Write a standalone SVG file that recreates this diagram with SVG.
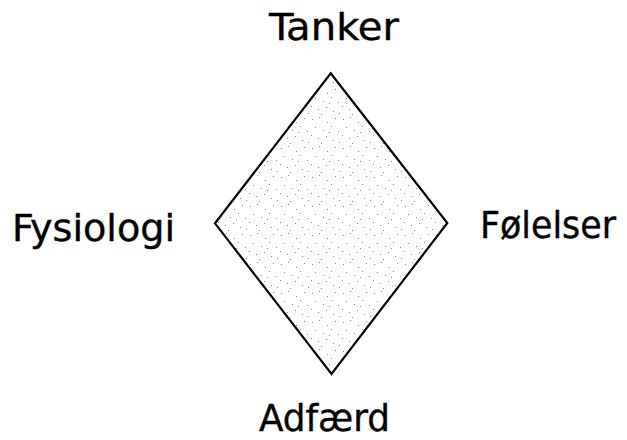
<svg xmlns="http://www.w3.org/2000/svg" width="627" height="440" viewBox="0 0 627 440">
<defs>
<style>
.lbl{font-family:"DejaVu Sans Condensed","DejaVu Sans","Liberation Sans",sans-serif;font-size:38px;fill:#000;stroke:#000;stroke-width:0.35}
.shape{stroke:#000;stroke-width:2.2;stroke-linejoin:miter}
</style>
<pattern id="stip" x="0" y="0" width="31" height="29" patternUnits="userSpaceOnUse">
<rect width="31" height="29" fill="#fff"/>
<g fill="#8a8a8a">
<rect x="2" y="3" width="1" height="1"/>
<rect x="9" y="1" width="1" height="1"/>
<rect x="17" y="6" width="1" height="1"/>
<rect x="25" y="2" width="1" height="1"/>
<rect x="5" y="11" width="1" height="1"/>
<rect x="13" y="14" width="1" height="1"/>
<rect x="21" y="10" width="1" height="1"/>
<rect x="28" y="15" width="1" height="1"/>
<rect x="1" y="19" width="1" height="1"/>
<rect x="8" y="22" width="1" height="1"/>
<rect x="16" y="20" width="1" height="1"/>
<rect x="23" y="24" width="1" height="1"/>
<rect x="11" y="27" width="1" height="1"/>
<rect x="29" y="26" width="1" height="1"/>
<rect x="19" y="16" width="1" height="1"/>
</g>
</pattern>
</defs>
<g id="diamond">
<polygon class="shape" points="330.7,73.3 447.3,223 331.5,374 215,223.3" fill="url(#stip)"/>
</g>
<g id="connectors"></g>
<g id="node-tanker"><text class="lbl" x="269" y="40" textLength="130" lengthAdjust="spacingAndGlyphs">Tanker</text></g>
<g id="node-fysiologi"><text class="lbl" x="12" y="241" textLength="163" lengthAdjust="spacingAndGlyphs">Fysiologi</text></g>
<g id="node-folelser"><text class="lbl" x="480" y="238" textLength="136" lengthAdjust="spacingAndGlyphs">Følelser</text></g>
<g id="node-adfaerd"><text class="lbl" x="259" y="431" textLength="131" lengthAdjust="spacingAndGlyphs">Adfærd</text></g>
</svg>
